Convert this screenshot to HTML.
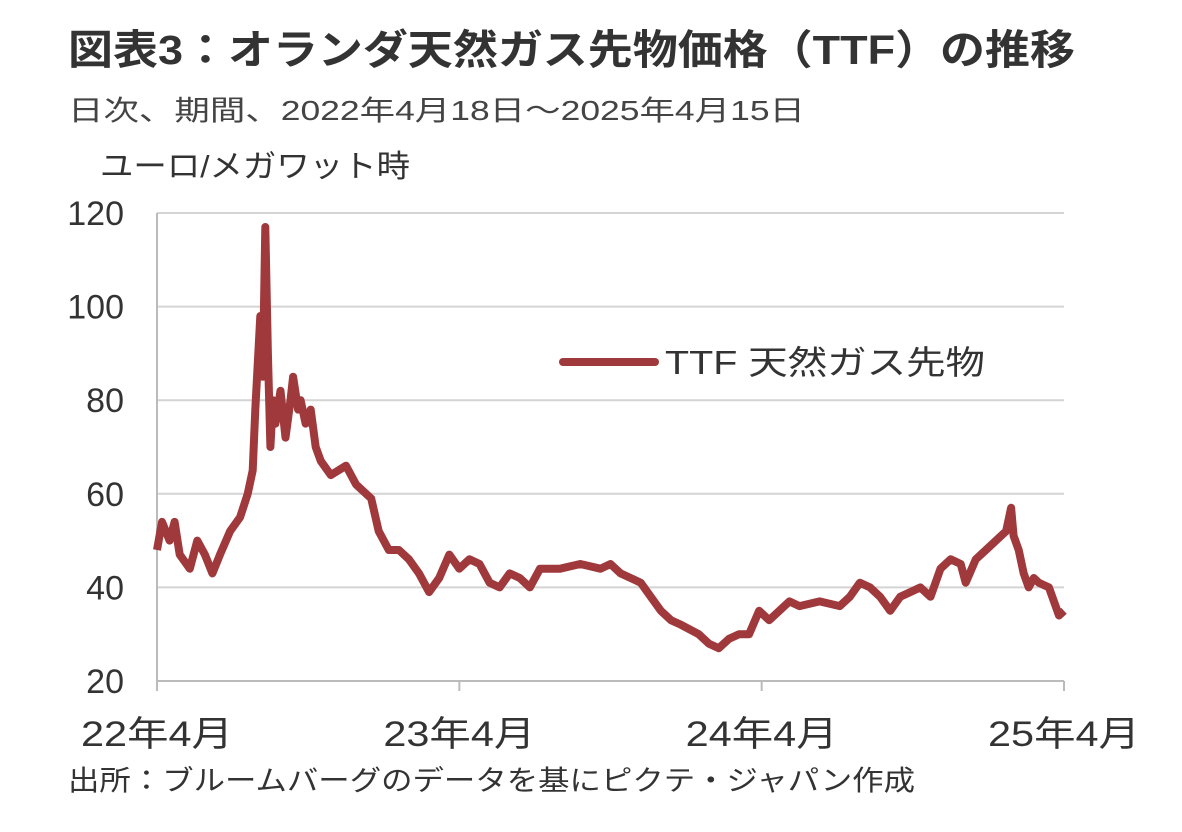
<!DOCTYPE html>
<html><head><meta charset="utf-8">
<style>
body{margin:0;background:#fff;}
svg text{font-family:"Liberation Sans","Noto Sans CJK JP",sans-serif;}
</style></head>
<body>
<svg width="1182" height="827" viewBox="0 0 1182 827">
<text x="68" y="64" font-size="41" font-weight="bold" fill="#333" textLength="1007" lengthAdjust="spacingAndGlyphs">図表3：オランダ天然ガス先物価格（TTF）の推移</text>
<text x="68" y="120" font-size="28" fill="#444" textLength="737" lengthAdjust="spacingAndGlyphs">日次、期間、2022年4月18日～2025年4月15日</text>
<text x="100" y="177" font-size="31" fill="#333" textLength="310" lengthAdjust="spacingAndGlyphs">ユーロ/メガワット時</text>
<g id="grid"></g>
<g id="yticks"></g>
<g id="xticks"></g>
<g id="series"></g>
<line x1="563" y1="362" x2="655" y2="362" stroke="#a0393c" stroke-width="8" stroke-linecap="round"/>
<text x="665" y="374" font-size="33" fill="#333" textLength="320" lengthAdjust="spacingAndGlyphs">TTF  天然ガス先物</text>
<text x="68" y="790" font-size="28" fill="#333" textLength="847" lengthAdjust="spacingAndGlyphs">出所：ブルームバーグのデータを基にピクテ・ジャパン作成</text>
</svg>
<script>
const yTicks=[20,40,60,80,100,120];
const xTickMonths=[0,12,24,36];
const xTickLabels=["22年4月","23年4月","24年4月","25年4月"];
const months=[0,.2,.5,.7,.9,1.3,1.6,1.9,2.2,2.5,2.9,3.3,3.6,3.8,3.9,4.1,4.2,4.3,4.4,4.5,4.6,4.7,4.9,5.1,5.3,5.4,5.6,5.7,5.9,6.1,6.3,6.5,6.9,7.5,7.9,8.5,8.8,9.2,9.6,10,10.4,10.8,11.2,11.6,12,12.4,12.8,13.2,13.6,14,14.4,14.8,15.2,16,16.8,17.6,18,18.4,19.2,19.6,20,20.4,20.8,21.5,21.9,22.3,22.7,23.1,23.5,23.9,24.3,24.7,25.1,25.5,26.3,27.1,27.5,27.9,28.3,28.7,29.1,29.5,29.9,30.3,30.7,31.1,31.5,31.9,32.1,32.5,32.9,33.3,33.7,33.9,34,34.2,34.4,34.6,34.8,35,35.4,35.8,36];
const values=[48,54,50,54,47,44,50,47,43,47,52,55,60,65,78,98,85,117,90,70,80,75,82,72,80,85,78,80,75,78,70,67,64,66,62,59,52,48,48,46,43,39,42,47,44,46,45,41,40,43,42,40,44,44,45,44,45,43,41,38,35,33,32,30,28,27,29,30,30,35,33,35,37,36,37,36,38,41,40,38,35,38,39,40,38,44,46,45,41,46,48,50,52,57,51,48,43,40,42,41,40,34,35];
const X0=157,X1=1064,Y0=681,Y1=213;
const xs=m=>X0+(X1-X0)*m/36;
const ys=v=>Y0-(Y0-Y1)*(v-20)/100;
const NS="http://www.w3.org/2000/svg";
const grid=document.getElementById('grid'),yt=document.getElementById('yticks'),xt=document.getElementById('xticks'),ser=document.getElementById('series');
yTicks.forEach(v=>{
 const l=document.createElementNS(NS,'line');
 l.setAttribute('x1',X0);l.setAttribute('x2',X1);l.setAttribute('y1',ys(v));l.setAttribute('y2',ys(v));
 l.setAttribute('stroke',v===20?'#bbb':'#d4d4d4');l.setAttribute('stroke-width',2);
 
 
 grid.appendChild(l);
 const t=document.createElementNS(NS,'text');
 t.setAttribute('x',124);t.setAttribute('y',ys(v)+12);t.setAttribute('text-anchor','end');t.setAttribute('font-size','34');t.setAttribute('fill','#333');
 t.textContent=v;
 
 
 yt.appendChild(t);
});
const ax=document.createElementNS(NS,'line');
ax.setAttribute('x1',X0);ax.setAttribute('x2',X0);ax.setAttribute('y1',Y1);ax.setAttribute('y2',Y0);ax.setAttribute('stroke','#bbb');ax.setAttribute('stroke-width',2);


grid.appendChild(ax);
xTickMonths.forEach((m,i)=>{
 const l=document.createElementNS(NS,'line');
 l.setAttribute('x1',xs(m));l.setAttribute('x2',xs(m));l.setAttribute('y1',Y0);l.setAttribute('y2',Y0+10);l.setAttribute('stroke','#bbb');l.setAttribute('stroke-width',2);
 
 
 grid.appendChild(l);
 const t=document.createElementNS(NS,'text');
 t.setAttribute('x',xs(m)-76);t.setAttribute('y',746);t.setAttribute('font-size','35');t.setAttribute('fill','#333');
 t.setAttribute('textLength','152');t.setAttribute('lengthAdjust','spacingAndGlyphs');
 t.textContent=xTickLabels[i];
 
 
 xt.appendChild(t);
});
const p=document.createElementNS(NS,'polyline');
p.setAttribute('points',months.map((m,i)=>xs(m).toFixed(1)+','+ys(values[i]).toFixed(1)).join(' '));
p.setAttribute('fill','none');p.setAttribute('stroke','#a0393c');p.setAttribute('stroke-width','8');p.setAttribute('stroke-linejoin','round');


ser.appendChild(p);
</script>
</body></html>
